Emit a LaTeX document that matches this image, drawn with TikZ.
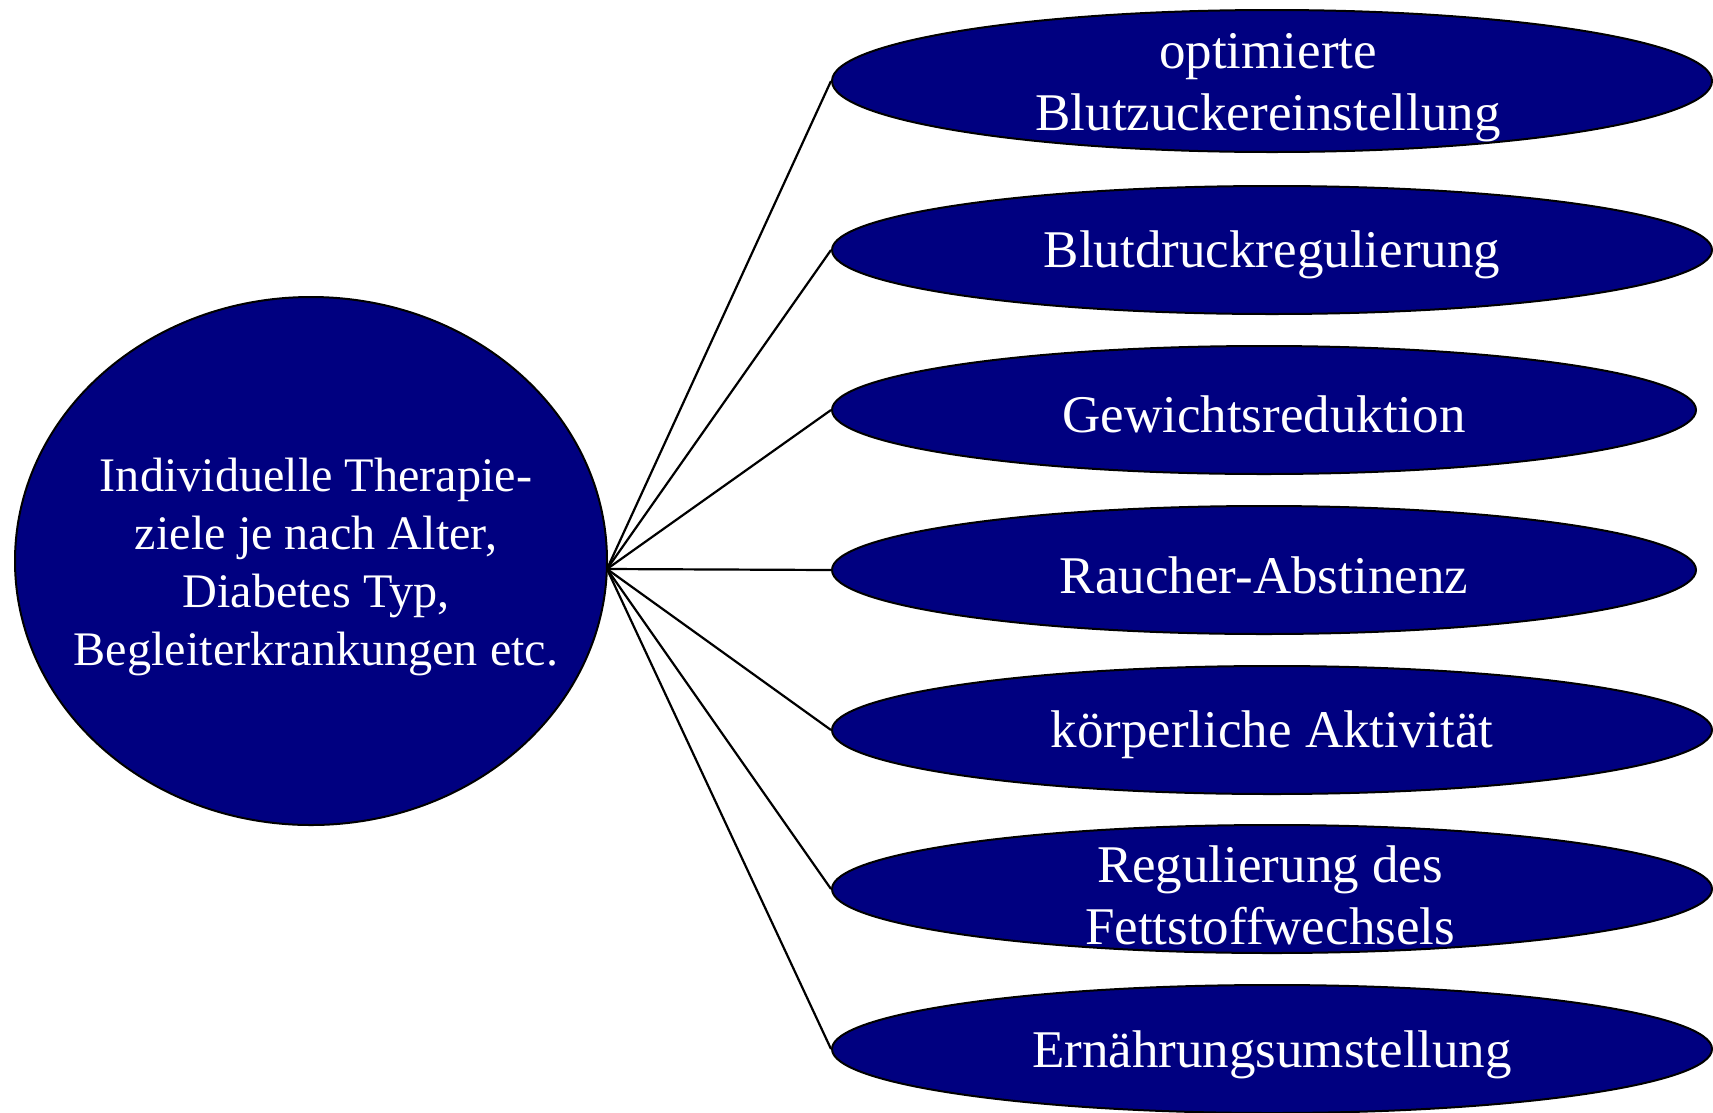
\documentclass[tikz,border=0pt]{standalone}
\usepackage{fontspec}
\setmainfont{Liberation Serif}
\usetikzlibrary{shapes.geometric}
\definecolor{navyfill}{RGB}{0,0,128}
\begin{document}
\begin{tikzpicture}[x=1pt,y=-1pt,
  bub/.style={ellipse, draw=black, line width=2pt, fill=navyfill, inner sep=0pt},
  small/.style={bub, minimum width=880pt, minimum height=128pt},
  shortbub/.style={bub, minimum width=864pt, minimum height=128pt},
  bubtext/.style={text=white, align=center, font=\fontsize{53}{62}\selectfont, inner sep=0pt},
  bigtext/.style={text=white, align=center, font=\fontsize{48.2}{58}\selectfont, inner sep=0pt},
  link/.style={draw=black, line width=2.2pt}]
\useasboundingbox (0,0) rectangle (1713,1112);
% central ellipse
\node[bub, minimum width=592pt, minimum height=528pt] (c) at (311,561) {};
\node[bigtext] (ct) at (316,567) {Individuelle Therapie-\\ziele je nach Alter,\hspace{0.5em}\\Diabetes Typ,\\Begleiterkrankungen etc.};
% goal ellipses
\node[bub, minimum width=880pt, minimum height=142pt] (e1) at (1272,81) {};
\node[small] (e2) at (1272,250) {};
\node[shortbub] (e3) at (1264,410) {};
\node[shortbub] (e4) at (1264,570) {};
\node[small] (e5) at (1272,730) {};
\node[small] (e6) at (1272,889) {};
\node[small] (e7) at (1272,1049) {};
\node[bubtext] (t1) at (1268,88) {optimierte\\Blutzuckereinstellung};
\node[bubtext] (t2) at (1272,255) {Blutdruckregulierung};
\node[bubtext] (t3) at (1264,414) {Gewichtsreduktion};
\node[bubtext] (t4) at (1264,575) {Raucher-Abstinenz};
\node[bubtext] (t5) at (1272,735) {körperliche Aktivität};
\node[bubtext] (t6) at (1270,895) {Regulierung des\\Fettstoffwechsels};
\node[bubtext] (t7) at (1272,1055) {Ernährungsumstellung};
% connectors
\coordinate (hub) at (607,569);
\foreach \e in {e1,e2,e3,e4,e5,e6,e7}
  \draw[link] (hub) -- (\e.west);
\end{tikzpicture}
\end{document}
